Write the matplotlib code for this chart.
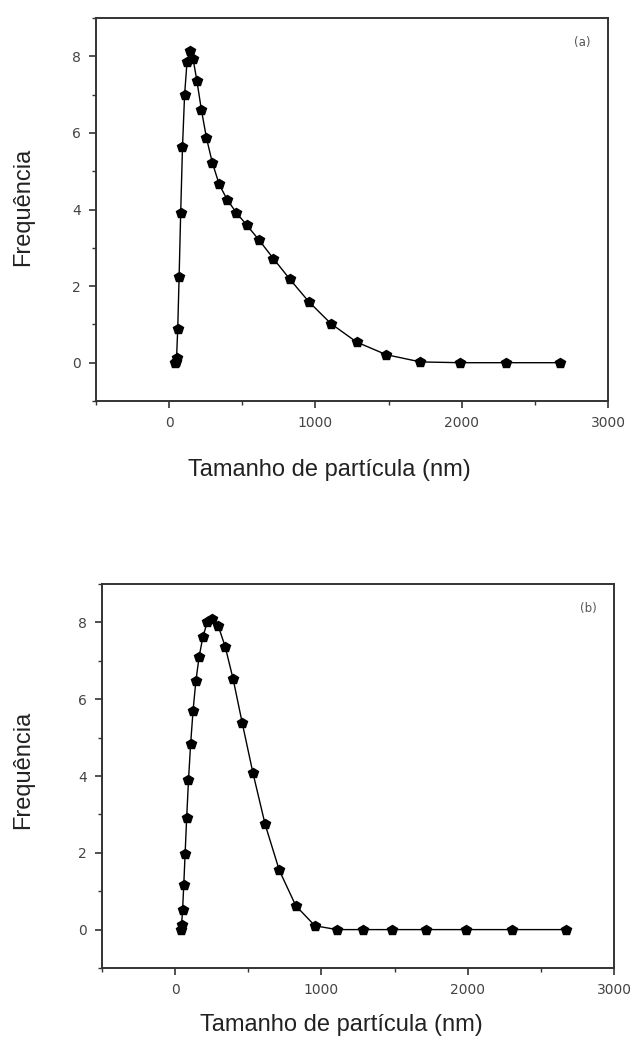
import matplotlib
matplotlib.use("Agg")
import matplotlib.pyplot as plt
from matplotlib.ticker import MultipleLocator

plt.rcParams['font.family'] = ['Liberation Sans', 'DejaVu Sans']

# Particle size bins (nm)
size_a = [37.84, 43.82, 50.75, 58.77, 68.06, 78.82, 91.28, 105.7, 122.4, 141.8,
          164.2, 190.1, 220.2, 255.0, 295.3, 342.0, 396.1, 458.7, 531.2, 615.1,
          712.4, 825.0, 955.4, 1106, 1281, 1484, 1718, 1990, 2305, 2669]
freq_a = [0.0, 0.03, 0.13, 0.89, 2.23, 3.90, 5.63, 7.00, 7.86, 8.15,
          7.92, 7.35, 6.61, 5.87, 5.22, 4.66, 4.26, 3.92, 3.59, 3.20,
          2.72, 2.18, 1.59, 1.02, 0.54, 0.21, 0.02, 0.0, 0.0, 0.0]

size_b = [37.84, 43.82, 50.75, 58.77, 68.06, 78.82, 91.28, 105.7, 122.4, 141.8,
          164.2, 190.1, 220.2, 255.0, 295.3, 342.0, 396.1, 458.7, 531.2, 615.1,
          712.4, 825.0, 955.4, 1106, 1281, 1484, 1718, 1990, 2305, 2669]
freq_b = [0.0, 0.12, 0.50, 1.15, 1.97, 2.91, 3.89, 4.83, 5.70, 6.48,
          7.11, 7.63, 8.01, 8.10, 7.90, 7.37, 6.53, 5.38, 4.09, 2.74,
          1.54, 0.62, 0.10, 0.0, 0.0, 0.0, 0.0, 0.0, 0.0, 0.0]

xlabel = "Tamanho de partícula (nm)"
ylabel = "Frequência"

fig = plt.figure(figsize=(6.36, 10.41), dpi=100)
ax1 = fig.add_axes([96/636, 1-401/1041, 512/636, 383/1041])
ax2 = fig.add_axes([102/636, 1-968/1041, 512/636, 384/1041])

spine_col = '#333333'
tick_col = '#444444'

panels = [
    (ax1, size_a, freq_a, "(a)", (0.455, -0.18), (-0.143, 0.506)),
    (ax2, size_b, freq_b, "(b)", (0.467, -0.148), (-0.154, 0.516)),
]

for ax, x, y, tag, xlc, ylc in panels:
    ax.plot(x, y, color='black', lw=1.0, marker='p', markersize=7.5,
            markerfacecolor='black', markeredgecolor='black')
    ax.set_xlim(-500, 3000)
    ax.set_ylim(-1, 9)
    ax.xaxis.set_major_locator(MultipleLocator(1000))
    ax.xaxis.set_minor_locator(MultipleLocator(500))
    ax.yaxis.set_major_locator(MultipleLocator(2))
    ax.yaxis.set_minor_locator(MultipleLocator(1))
    for s in ax.spines.values():
        s.set_color(spine_col)
        s.set_linewidth(1.4)
    ax.tick_params(which='major', direction='out', length=5, width=1.2,
                   color=spine_col, labelcolor=tick_col, labelsize=10, pad=6)
    ax.tick_params(which='minor', direction='out', length=3, width=1.0,
                   color=spine_col)
    for lab in ax.get_xticklabels() + ax.get_yticklabels():
        lab.set_family(['DejaVu Sans'])
    ax.set_xlabel(xlabel, fontsize=17, color='#222222', va='center')
    ax.xaxis.set_label_coords(*xlc)
    ax.set_ylabel(ylabel, fontsize=17, color='#222222', va='center')
    ax.yaxis.set_label_coords(*ylc)
    ax.text(0.949, 0.937, tag, transform=ax.transAxes, fontsize=8.5,
            family=['DejaVu Sans'], color='#555555', ha='center', va='center')

fig.savefig("out.png", dpi=100)
